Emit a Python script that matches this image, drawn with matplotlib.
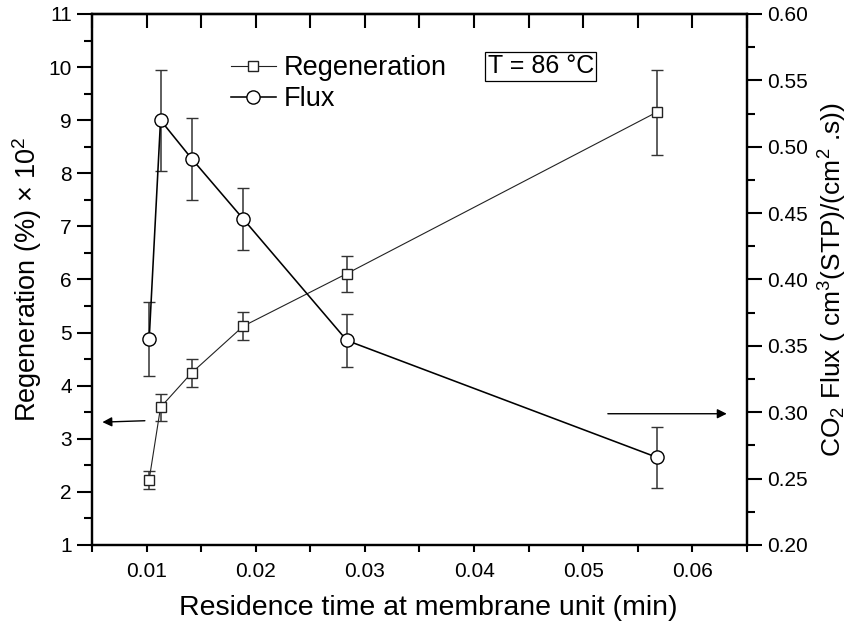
"""Regeneration and CO2 flux vs residence time, twin y axes."""
import matplotlib
matplotlib.use("Agg")
import matplotlib.pyplot as plt
from matplotlib.lines import Line2D
from matplotlib.ticker import MultipleLocator

plt.rcParams["font.family"] = ["Liberation Sans", "DejaVu Sans"]
plt.rcParams["mathtext.fontset"] = "custom"
plt.rcParams["mathtext.rm"] = "Liberation Sans"
plt.rcParams["mathtext.it"] = "Liberation Sans"

# data
residence_time = [0.01024, 0.01128, 0.01413, 0.01886, 0.02835, 0.05673]
regeneration = [2.23, 3.59, 4.24, 5.12, 6.11, 9.15]
regeneration_err = [0.17, 0.26, 0.26, 0.27, 0.34, 0.80]
flux = [0.355, 0.520, 0.491, 0.4455, 0.354, 0.266]
flux_err = [0.028, 0.038, 0.031, 0.0235, 0.020, 0.023]

fig = plt.figure(figsize=(8.54, 6.27), dpi=100)
ax = fig.add_axes([0.1077, 0.131, 0.767, 0.8467])
ax2 = ax.twinx()

ax.errorbar(residence_time, regeneration, yerr=regeneration_err, color="#222222", lw=0.8,
            marker="s", ms=7.5, mfc="white", mec="#222222", mew=1.0,
            ecolor="#333333", elinewidth=1.1, capsize=4.5, capthick=1.1, zorder=3)
ax2.errorbar(residence_time, flux, yerr=flux_err, color="black", lw=1.15,
             marker="o", ms=9.5, mfc="white", mec="black", mew=1.0,
             ecolor="#333333", elinewidth=1.1, capsize=4.5, capthick=1.1, zorder=3)

ax.set_xlim(0.005, 0.065)
ax.set_ylim(1, 11)
ax.set_xticks([0.01, 0.02, 0.03, 0.04, 0.05, 0.06])
ax.set_xticklabels(["0.01", "0.02", "0.03", "0.04", "0.05", "0.06"])
ax.xaxis.set_minor_locator(MultipleLocator(0.005))
ax.yaxis.set_major_locator(MultipleLocator(1))
ax.yaxis.set_minor_locator(MultipleLocator(0.5))
ax2.yaxis.set_minor_locator(MultipleLocator(0.025))
ax2.set_yticks([0.20, 0.25, 0.30, 0.35, 0.40, 0.45, 0.50, 0.55, 0.60])
ax2.set_yticklabels(["0.20", "0.25", "0.30", "0.35", "0.40", "0.45", "0.50", "0.55", "0.60"])
ax2.set_ylim(0.20, 0.60)

for a in (ax, ax2):
    for s in a.spines.values():
        s.set_linewidth(1.6)
ax.tick_params(axis="x", which="both", direction="out", length=5, width=1.5,
               labelsize=15, pad=7, top=False)
ax.tick_params(axis="y", which="major", direction="out", length=11, width=1.5, labelsize=15)
ax.tick_params(axis="y", which="minor", direction="out", length=6, width=1.5)
ax2.tick_params(axis="y", which="major", direction="out", length=11, width=1.5, labelsize=15)
ax2.tick_params(axis="y", which="minor", direction="out", length=6, width=1.5)
# top axis ticks pointing inward
sec = ax.secondary_xaxis("top")
sec.set_xticks([0.01, 0.02, 0.03, 0.04, 0.05, 0.06])
sec.xaxis.set_minor_locator(MultipleLocator(0.005))
sec.tick_params(axis="x", which="both", direction="in", length=10, width=1.5, labeltop=False)
sec.spines["top"].set_linewidth(1.6)

ax.set_xlabel("Residence time at membrane unit (min)", fontsize=20.5, labelpad=12)
ax.xaxis.set_label_coords(0.513, -0.095)
ax.set_ylabel(r"Regeneration (%) $\times$ 10$^2$", fontsize=19.5, labelpad=3)
ax2.set_ylabel(r"CO$_2$ Flux ( cm$^3$(STP)/(cm$^2$ .s))", fontsize=19, labelpad=6)

handles = [Line2D([], [], color="#222222", lw=0.8, marker="s", ms=7.5, mfc="white", mec="#222222"),
           Line2D([], [], color="black", lw=1.15, marker="o", ms=9.5, mfc="white", mec="black")]
ax.legend(handles, ["Regeneration", "Flux"], loc="upper left", bbox_to_anchor=(0.212, 0.922),
          frameon=False, fontsize=19.5, handlelength=1.65, handletextpad=0.3,
          labelspacing=0.17, borderpad=0, borderaxespad=0)

ax.text(0.685, 0.902, "T = 86 °C", transform=ax.transAxes, fontsize=18, ha="center", va="center",
        bbox=dict(boxstyle="square,pad=0.1", fc="white", ec="black", lw=0.9))

# direction arrows
ax.annotate("", xy=(0.0057, 3.31), xytext=(0.0101, 3.34),
            arrowprops=dict(arrowstyle="-|>", color="black", lw=1.0, mutation_scale=14))
ax.annotate("", xy=(0.0634, 3.47), xytext=(0.0520, 3.47),
            arrowprops=dict(arrowstyle="-|>", color="black", lw=1.0, mutation_scale=14))

fig.savefig("out.png", dpi=100)
